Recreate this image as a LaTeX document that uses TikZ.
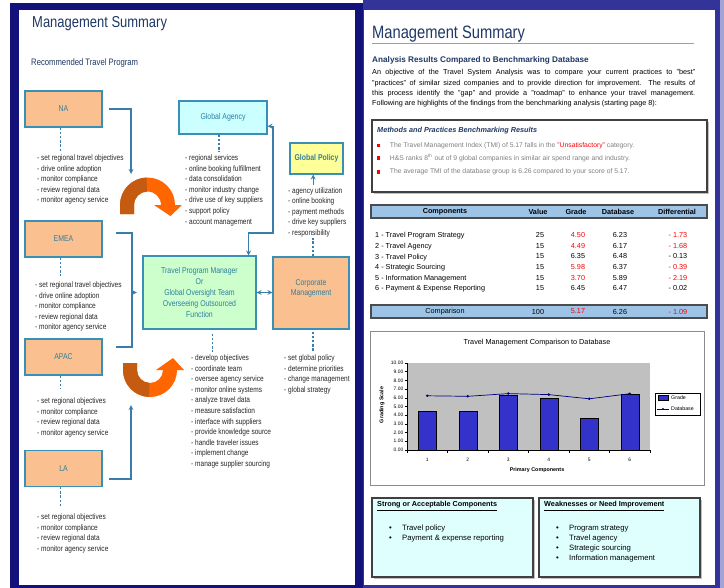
\documentclass[tikz,border=0pt]{standalone}
\usepackage{fontspec}
\setmainfont{Liberation Sans}
\newfontfamily\narrowfont[FakeStretch=0.82]{Liberation Sans}
\usepackage{xcolor}
\usepackage{tikz}
\usetikzlibrary{positioning,shadows}

\definecolor{frameNavy}{HTML}{12127A}
\definecolor{frameBlue}{HTML}{333399}
\definecolor{frameLav}{HTML}{A3A3D6}
\definecolor{titleNavy}{HTML}{1F3864}
\definecolor{boxEdge}{HTML}{3A8FB7}
\definecolor{boxText}{HTML}{2F7FA0}
\definecolor{linkBlue}{HTML}{3A7DAA}
\definecolor{peach}{HTML}{FAC090}
\definecolor{paleCyan}{HTML}{CCFFFF}
\definecolor{paleGreen}{HTML}{CCFFCC}
\definecolor{paleYellow}{HTML}{FFFF99}
\definecolor{paleAqua}{HTML}{DFFFFF}
\definecolor{orangeLite}{HTML}{FF6600}
\definecolor{orangeDark}{HTML}{C55A11}
\definecolor{ruleBlue}{HTML}{7BA7D0}
\definecolor{headBlue}{HTML}{9DC3E6}
\definecolor{plotGray}{HTML}{C0C0C0}
\definecolor{barBlue}{HTML}{3333CC}
\definecolor{dbNavy}{HTML}{000080}

\begin{document}
\begin{tikzpicture}[x=0.03cm, y=0.03cm,
    region/.style={rectangle, draw=boxEdge, line width=0.9pt, fill=peach, text=boxText, minimum width=2.31cm, minimum height=1.08cm, font=\narrowfont\fontsize{7.2}{9.2}\selectfont},
    hub/.style={rectangle, draw=boxEdge, line width=0.9pt, text=boxText, align=center, font=\narrowfont\fontsize{7.2}{9.2}\selectfont},
    duties/.style={anchor=north west, inner sep=0pt, align=left, text=black!85, font=\narrowfont\fontsize{6.8}{9.05}\selectfont},
    link/.style={draw=linkBlue, line width=0.9pt},
    arrow/.style={->, >=stealth, draw=linkBlue, line width=0.9pt},
    dashlink/.style={draw=linkBlue, line width=0.9pt, dash pattern=on 2pt off 1.6pt},
    panel/.style={rectangle, draw=black!75, line width=0.9pt, drop shadow={shadow xshift=0.05cm, shadow yshift=-0.05cm, fill=black!40, opacity=0.6}},
    bar/.style={rectangle, draw=black!70, line width=1.2pt, fill=headBlue, minimum width=10.08cm, minimum height=0.39cm},
    cell/.style={inner sep=0pt, font=\fontsize{6.2}{9.05}\selectfont},
    colhead/.style={inner sep=0pt, font=\bfseries\fontsize{6.2}{8}\selectfont},
    finding/.style={anchor=west, inner sep=0pt, text=black!50, font=\fontsize{5.8}{7}\selectfont},
    redsq/.style={fill=red, inner sep=0pt, minimum size=0.1cm},
    ticklab/.style={inner sep=0pt, font=\fontsize{4.2}{5}\selectfont},
    axislab/.style={inner sep=0pt, font=\bfseries\fontsize{4.6}{5}\selectfont},
    dbline/.style={draw=dbNavy, line width=0.6pt},
    boxhead/.style={anchor=west, inner sep=0pt, font=\bfseries\fontsize{6.2}{8}\selectfont},
    points/.style={anchor=north west, inner sep=0pt, align=left, font=\fontsize{6.6}{8.55}\selectfont}
  ]

  \useasboundingbox (0,0) rectangle (724,-588);

  % Page frames
  \fill[frameNavy] (10,-3) rectangle (363,-588);
  \fill[white] (19,-10) rectangle (355,-585);
  \fill[frameBlue] (363,0) rectangle (720,-588);
  \fill[frameLav] (720,0) rectangle (724,-588);
  \fill[white] (364,-10) rectangle (715,-585);

  %%%%%%%%%%%%%%%% Left page %%%%%%%%%%%%%%%%

  \node[anchor=base west, inner sep=0pt, text=titleNavy, font=\narrowfont\fontsize{13.5}{16}\selectfont] (lefttitle) at (32,-28) {Management Summary};
  \node[anchor=west, inner sep=0pt, text=titleNavy, font=\narrowfont\fontsize{8}{10}\selectfont] (progtitle) at (31,-63) {Recommended Travel Program};

  % Regional offices (left column)
  \node[region] (na) at (63.5,-109) {NA};
  \node[region] (emea) at (63.5,-239) {EMEA};
  \node[region] (apac) at (63.5,-357) {APAC};
  \node[region] (la) at (63.5,-468.5) {LA};

  % Global functions
  \node[hub, fill=paleCyan, minimum width=2.64cm, minimum height=0.99cm] (agency) at (223,-117.5) {Global Agency};
  \node[hub, fill=paleYellow, minimum width=1.59cm, minimum height=0.93cm, font=\narrowfont\bfseries\fontsize{7.2}{9.2}\selectfont] (policy) at (316.5,-158.5) {Global Policy};
  \node[hub, fill=paleGreen, minimum width=3.39cm, minimum height=2.19cm] (tpm) at (199.5,-292.5) {Travel Program Manager\\Or\\Global Oversight Team\\Overseeing Outsourced\\Function};
  \node[hub, fill=peach, minimum width=2.28cm, minimum height=2.16cm] (corp) at (311,-293) {Corporate\\Management\\\mbox{}};

  % Duty lists
  \node[duties] (nalist) at (37,-154.5) {- set regional travel objectives\\- drive online adoption\\- monitor compliance\\- review regional data\\- monitor agency service};
  \node[duties] (agencylist) at (185,-154.5) {- regional services\\- online booking fulfillment\\- data consolidation\\- monitor industry change\\- drive use of key suppliers\\- support policy\\- account management};
  \node[duties] (policylist) at (288,-187) {- agency utilization\\- online booking\\- payment methods\\- drive key suppliers\\- responsibility};
  \node[duties] (emealist) at (35,-281.5) {- set regional travel objectives\\- drive online adoption\\- monitor compliance\\- review regional data\\- monitor agency service};
  \node[duties] (tpmlist) at (191,-354.5) {- develop objectives\\- coordinate team\\- oversee agency service\\- monitor online systems\\- analyze travel data\\- measure satisfaction\\- interface with suppliers\\- provide knowledge source\\- handle traveler issues\\- implement change\\- manage supplier sourcing};
  \node[duties] (corplist) at (284,-354.5) {- set global policy\\- determine priorities\\- change management\\- global strategy};
  \node[duties] (apaclist) at (37,-397.5) {- set regional objectives\\- monitor compliance\\- review regional data\\- monitor agency service};
  \node[duties] (lalist) at (37,-513.5) {- set regional objectives\\- monitor compliance\\- review regional data\\- monitor agency service};

  % Turning arrows
  \begin{scope}[shift={(147.5,-205)}]
    \fill[orangeLite] (-27.5,-9) -- (180:27.5) arc[start angle=180, end angle=0, radius=27.5] -- (34.5,0) -- (23,-11) -- (6.5,0) -- (0:13.5) arc[start angle=0, end angle=180, radius=13.5] -- (-13.5,-9) -- cycle;
    \fill[orangeDark] (-27.5,-9) -- (180:27.5) arc[start angle=180, end angle=92, radius=27.5] -- (92:13.5) arc[start angle=92, end angle=180, radius=13.5] -- (-13.5,-9) -- cycle;
  \end{scope}
  \begin{scope}[shift={(150,-370)}]
    \fill[orangeLite] (-27,7) -- (180:27) arc[start angle=180, end angle=360, radius=27] -- (34,0) -- (23,12) -- (6,0) -- (0:13) arc[start angle=0, end angle=-180, radius=13] -- (-13,7) -- cycle;
    \fill[orangeDark] (-27,7) -- (180:27) arc[start angle=180, end angle=268, radius=27] -- (268:13) arc[start angle=268, end angle=180, radius=13] -- (-13,7) -- cycle;
  \end{scope}

  % Connectors
  \coordinate (topin) at (131,-174);
  \coordinate (botin) at (131,-405);
  \coordinate (join) at (132,-292.5);
  \coordinate (gabend) at (273,-233);

  \draw[arrow] ([xshift=0.18cm]na.east) -| (topin);
  \draw[arrow] ([xshift=0.18cm,yshift=-0.315cm]la.east) -| (botin);
  \draw[link] ([xshift=0.39cm,yshift=0.18cm]emea.east) -| (join);
  \draw[link] ([xshift=0.39cm,yshift=0.3cm]apac.east) -| (join);
  \draw[arrow, shorten >=0.17cm] (join) -- (tpm.west);
  \draw[arrow, <->] ([yshift=-0.26cm]agency.east) -| (gabend) -| ([xshift=-0.24cm]tpm.north east);
  \draw[arrow, <->] (tpm.east) -- (tpm.east -| corp.west);
  \draw[arrow] ([xshift=-0.1cm,yshift=-0.3cm]policy.south) -- ([xshift=-0.1cm]policy.south);

  % Dashed ties to the lists
  \draw[dashlink] ([xshift=-0.08cm]na.south) -- ++(0,-0.72cm);
  \draw[dashlink] ([xshift=-0.12cm]agency.south) -- ++(0,-0.51cm);
  \draw[dashlink] ([xshift=0.06cm]corp.north) -- ++(0,0.54cm);
  \draw[dashlink] ([xshift=0.06cm,yshift=-0.06cm]corp.south) -- ++(0,-0.57cm);
  \draw[dashlink] ([xshift=0.4cm,yshift=-0.12cm]tpm.south) -- ++(0,-0.54cm);
  \draw[dashlink] ([xshift=-0.08cm]emea.south) -- ++(0,-0.54cm);
  \draw[dashlink] ([xshift=-0.08cm]apac.south) -- ++(0,-0.39cm);
  \draw[dashlink] ([xshift=-0.08cm]la.south) -- ++(0,-0.56cm);

  %%%%%%%%%%%%%%%% Right page %%%%%%%%%%%%%%%%

  \node[anchor=base west, inner sep=0pt, text=titleNavy, font=\narrowfont\fontsize{15.3}{18}\selectfont] (righttitle) at (372,-39) {Management Summary};
  \draw[ruleBlue, line width=1.6pt] (372,-43.5) -- (694,-43.5);
  \node[anchor=west, inner sep=0pt, text=titleNavy, font=\bfseries\fontsize{7}{9}\selectfont] (analysis) at (372,-60) {Analysis Results Compared to Benchmarking Database};
  \node[anchor=north west, inner sep=0pt, text width=9.69cm, align=justify, font=\fontsize{6.2}{8.8}\selectfont] (intro) at (372,-69.5) {An objective of the Travel System Analysis was to compare your current practices to "best"\linebreak "practices" of similar sized companies and to provide direction for improvement.  The results of\linebreak this process identify the "gap" and provide a "roadmap" to enhance your travel management.\linebreak Following are highlights of the findings from the benchmarking analysis (starting page 8):};

  % Benchmarking results box
  \node[panel, fill=white, minimum width=10.05cm, minimum height=2.16cm] (methods) at (539.5,-156) {};
  \node[anchor=west, inner sep=0pt, text=titleNavy, font=\bfseries\itshape\fontsize{6.2}{8}\selectfont] (methtitle) at (377,-131) {Methods and Practices Benchmarking Results};
  \node[redsq] (sq1) at (378.5,-145.5) {};
  \node[redsq] (sq2) at (378.5,-158) {};
  \node[redsq] (sq3) at (378.5,-172) {};
  \node[finding, right=0.28cm of sq1] (find1) {The Travel Management Index (TMI) of 5.17 falls in the \textcolor{red}{"Unsatisfactory"} category.};
  \node[finding, right=0.28cm of sq2] (find2) {H\&S ranks 8\textsuperscript{th} out of 9 global companies in similar air spend range and industry.};
  \node[finding, right=0.28cm of sq3] (find3) {The average TMI of the database group is 6.26 compared to your score of 5.17.};

  % Component table
  \node[bar] (thead) at (539,-211.5) {};
  \node[colhead] (hcomp) at (445,-211.5) {Components};
  \node[colhead] (hvalue) at (538,-211.5) {Value};
  \node[colhead] (hgrade) at (576,-211.5) {Grade};
  \node[colhead] (hdb) at (618,-211.5) {Database};
  \node[colhead] (hdiff) at (677,-211.5) {Differential};

  \node[cell, anchor=north west, align=left] (complist) at (375,-232.3) {1 - Travel Program Strategy\\2 - Travel Agency\\3 - Travel Policy\\4 - Strategic Sourcing\\5 - Information Management\\6 - Payment \& Expense Reporting};
  \node[cell, anchor=north, align=center] (valuecol) at (540,-232.3) {25\\15\\15\\15\\15\\15};
  \node[cell, anchor=north, align=center] (gradecol) at (578,-232.3) {\textcolor{red}{4.50}\\\textcolor{red}{4.49}\\6.35\\\textcolor{red}{5.98}\\\textcolor{red}{3.70}\\6.45};
  \node[cell, anchor=north, align=center] (dbcol) at (620,-232.3) {6.23\\6.17\\6.48\\6.37\\5.89\\6.47};
  \node[cell, anchor=north, align=center] (diffcol) at (678,-232.3) {\textcolor{red}{- 1.73}\\\textcolor{red}{- 1.68}\\- 0.13\\\textcolor{red}{- 0.39}\\\textcolor{red}{- 2.19}\\- 0.02};

  \node[bar] (tfoot) at (539,-311.5) {};
  \node[cell] (fcomp) at (445,-311.5) {Comparison};
  \node[cell] (fvalue) at (538,-311.5) {100};
  \node[cell, text=red] (fgrade) at (578,-311.5) {5.17};
  \node[cell] (fdb) at (620,-311.5) {6.26};
  \node[cell, text=red] (fdiff) at (678,-311.5) {- 1.09};

  % Comparison chart
  \node[rectangle, draw=black!45, line width=0.8pt, fill=white, minimum width=10.02cm, minimum height=4.62cm] (chart) at (537,-408) {};
  \node[inner sep=0pt, font=\fontsize{6.2}{7}\selectfont] (charttitle) at (537,-343) {Travel Management Comparison to Database};
  \fill[plotGray] (407,-363) rectangle (650,-450);
  \foreach \k in {0,...,10} {
    \draw[line width=0.4pt] (404.5,{-450+8.7*\k}) -- (407,{-450+8.7*\k});
    \node[ticklab, anchor=east] at (403.5,{-450+8.7*\k}) {\k.00};
  }
  \foreach \k in {0,...,6}
    \draw[line width=0.4pt] ({407+40.5*\k},-450) -- ({407+40.5*\k},-452.5);
  \foreach \i/\g in {1/4.50,2/4.49,3/6.35,4/5.98,5/3.70,6/6.45} {
    \filldraw[fill=barBlue, draw=black, line width=0.4pt] ({407+40.5*\i-29.25},-450) rectangle ({407+40.5*\i-11.25},{-450+8.7*\g});
    \node[ticklab] at ({407+40.5*\i-20.25},-460) {\i};
  }
  \draw[line width=0.5pt] (407,-363) -- (407,-450) -- (650,-450);
  \draw[dbline] (427.25,-395.8) -- (467.75,-396.3) -- (508.25,-393.6) -- (548.75,-394.6) -- (589.25,-398.8) -- (629.75,-393.7);
  \foreach \p in {(427.25,-395.8),(467.75,-396.3),(508.25,-393.6),(548.75,-394.6),(589.25,-398.8),(629.75,-393.7)}
    \fill[dbNavy] \p circle (1.4);
  \node[axislab, rotate=90] (ylab) at (382,-405) {Grading Scale};
  \node[axislab] (xlab) at (537,-470) {Primary Components};

  % Legend
  \node[rectangle, draw=black, line width=0.4pt, fill=white, minimum width=1.35cm, minimum height=0.66cm] (legend) at (677.5,-404) {};
  \filldraw[fill=barBlue, draw=black, line width=0.3pt] (658,-395.5) rectangle (668,-400);
  \draw[dbline] (657,-409) -- (669,-409);
  \fill[dbNavy] (663,-409) circle (1.2);
  \node[ticklab, anchor=west, font=\fontsize{4.5}{5}\selectfont] (leggrade) at (671,-397.5) {Grade};
  \node[ticklab, anchor=west, font=\fontsize{4.5}{5}\selectfont] (legdb) at (671,-409) {Database};

  % Strengths and weaknesses
  \node[panel, fill=paleAqua, minimum width=4.83cm, minimum height=2.37cm] (strong) at (452.5,-537.5) {};
  \node[panel, fill=paleAqua, minimum width=4.83cm, minimum height=2.37cm] (weak) at (619.5,-537.5) {};
  \node[boxhead] (strongtitle) at (377,-506) {\underline{Strong or Acceptable Components}};
  \node[boxhead] (weaktitle) at (544,-506) {\underline{Weaknesses or Need Improvement}};
  \node[points] (stronglist) at (389,-524.5) {\makebox[11pt][l]{\textbullet}Travel policy\\\makebox[11pt][l]{\textbullet}Payment \& expense reporting};
  \node[points] (weaklist) at (556,-524.5) {\makebox[11pt][l]{\textbullet}Program strategy\\\makebox[11pt][l]{\textbullet}Travel agency\\\makebox[11pt][l]{\textbullet}Strategic sourcing\\\makebox[11pt][l]{\textbullet}Information management};

\end{tikzpicture}
\end{document}
